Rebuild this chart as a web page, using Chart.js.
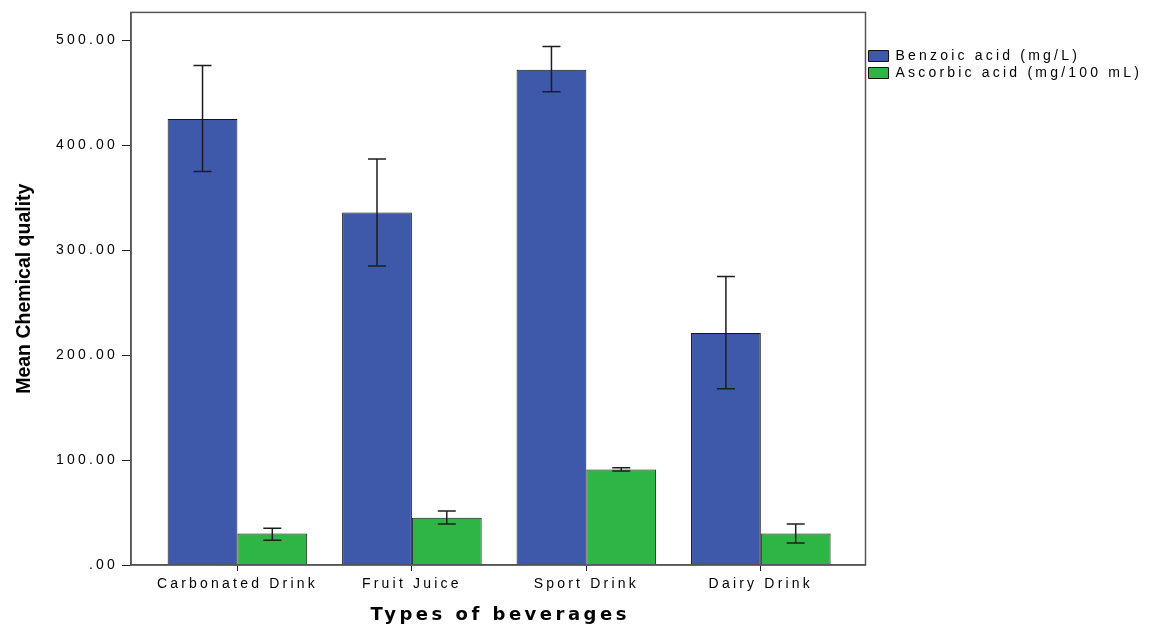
<!DOCTYPE html>
<html>
<head>
<meta charset="utf-8">
<title>Mean Chemical quality by type of beverage</title>
<script src="https://cdn.jsdelivr.net/npm/chart.js@4.4.1/dist/chart.umd.min.js"></script>
<style>
  html, body { margin: 0; padding: 0; background: #fff; }
  #wrap { width: 1152px; height: 624px; position: relative; }
</style>
</head>
<body>
<div id="wrap"><canvas id="chart"></canvas></div>
<script>
// data
const categories = ["Carbonated Drink", "Fruit Juice", "Sport Drink", "Dairy Drink"];
const benzoic = [425, 336, 472, 221];
const benzoicLow = [375, 285, 451, 168];
const benzoicHigh = [476, 387, 494, 275];
const ascorbic = [30, 45, 91, 30];
const ascorbicLow = [23.5, 39, 89.5, 21];
const ascorbicHigh = [35, 51.5, 92.7, 39];
const yTicks = [0, 100, 200, 300, 400, 500];
const seriesLabels = ["Benzoic acid (mg/L)", "Ascorbic acid (mg/100 mL)"];
const xTitle = "Types of beverages";
const yTitle = "Mean Chemical quality";

const errors = [
  { low: benzoicLow, high: benzoicHigh },
  { low: ascorbicLow, high: ascorbicHigh },
];

Chart.defaults.font.family = '"Liberation Sans", Arial, sans-serif';
Chart.defaults.font.size = 14;
Chart.defaults.color = "#111";

// the reference text is drawn wide, so space the letters out
const spacing = {
  id: "spacing",
  beforeUpdate(chart) { chart.ctx.letterSpacing = "3.2px"; },
  beforeDraw(chart) { chart.ctx.letterSpacing = "3.2px"; },
};

// box round the plot area
const frame = {
  id: "frame",
  afterDraw(chart) {
    const { ctx, chartArea: a } = chart;
    ctx.save();
    ctx.strokeStyle = "#555";
    ctx.lineWidth = 1.5;
    ctx.strokeRect(a.left, a.top, a.right - a.left, a.bottom - a.top);
    ctx.restore();
  },
};

// error bars from the low / high arrays
const errorBars = {
  id: "errorBars",
  afterDatasetsDraw(chart) {
    const { ctx } = chart;
    const y = chart.scales.y;
    ctx.save();
    ctx.strokeStyle = "#1e1e1e";
    ctx.lineWidth = 1.5;
    errors.forEach((e, i) => {
      const meta = chart.getDatasetMeta(i);
      meta.data.forEach((bar, j) => {
        const top = y.getPixelForValue(e.high[j]);
        const bottom = y.getPixelForValue(e.low[j]);
        ctx.beginPath();
        ctx.moveTo(bar.x, top);
        ctx.lineTo(bar.x, bottom);
        ctx.moveTo(bar.x - 9, top);
        ctx.lineTo(bar.x + 9, top);
        ctx.moveTo(bar.x - 9, bottom);
        ctx.lineTo(bar.x + 9, bottom);
        ctx.stroke();
      });
    });
    ctx.restore();
  },
};

// axis titles, drawn here so each gets its own spacing
const axisTitles = {
  id: "axisTitles",
  afterDraw(chart) {
    const { ctx, chartArea: a } = chart;
    ctx.save();
    ctx.fillStyle = "#000";
    ctx.letterSpacing = "3.5px";
    ctx.font = 'bold 18px "DejaVu Sans", Verdana, sans-serif';
    ctx.textAlign = "center";
    ctx.textBaseline = "alphabetic";
    ctx.fillText(xTitle, (a.left + a.right) / 2 + 2, 620);
    ctx.letterSpacing = "0px";
    ctx.font = 'bold 19.5px "Liberation Sans", Arial, sans-serif';
    ctx.translate(25, (a.top + a.bottom) / 2);
    ctx.rotate(-Math.PI / 2);
    ctx.textBaseline = "middle";
    ctx.fillText(yTitle, 0, 0);
    ctx.restore();
  },
};

new Chart(document.getElementById("chart"), {
  type: "bar",
  data: {
    datasets: [
      {
        label: seriesLabels[0],
        data: benzoic.map((v, i) => ({ x: i, y: v })),
        backgroundColor: "#3e58aa",
        borderColor: "#151515",
        borderWidth: 1,
      },
      {
        label: seriesLabels[1],
        data: ascorbic.map((v, i) => ({ x: i, y: v })),
        backgroundColor: "#2db546",
        borderColor: "#151515",
        borderWidth: 1,
      },
    ],
  },
  options: {
    responsive: true,
    maintainAspectRatio: false,
    animation: false,
    categoryPercentage: 0.8,
    barPercentage: 1.0,
    layout: { padding: { top: 10, left: 0, bottom: 0, right: 0 } },
    plugins: {
      tooltip: { enabled: false },
      legend: {
        position: "right",
        align: "start",
        title: { display: true, text: "", font: { size: 10 }, padding: { top: 24, bottom: 0 } },
        labels: {
          boxWidth: 20,
          boxHeight: 11,
          padding: 3,
          color: "#000",
          font: { size: 14 },
        },
      },
    },
    scales: {
      x: {
        type: "linear",
        offset: false,
        min: -0.61,
        max: 3.6,
        afterBuildTicks: (s) => { s.ticks = categories.map((c, i) => ({ value: i })); },
        afterFit: (s) => { s.height = 59; },
        ticks: {
          callback: (v) => categories[v],
          color: "#000",
          padding: 5,
          maxRotation: 0,
          autoSkip: false,
        },
        grid: { offset: false, drawOnChartArea: false, tickLength: 6, color: "#222" },
        border: { color: "#555", width: 1.5 },
      },
      y: {
        min: 0,
        max: 526.6,
        afterBuildTicks: (s) => { s.ticks = yTicks.map((v) => ({ value: v })); },
        afterFit: (s) => { s.width = 131; },
        ticks: {
          callback: (v) => (v === 0 ? ".00" : v.toFixed(2)),
          color: "#000",
          padding: 4,
        },
        grid: { drawOnChartArea: false, tickLength: 9, color: "#222" },
        border: { color: "#555", width: 1.5 },
      },
    },
  },
  plugins: [spacing, frame, errorBars, axisTitles],
});
</script>
</body>
</html>
